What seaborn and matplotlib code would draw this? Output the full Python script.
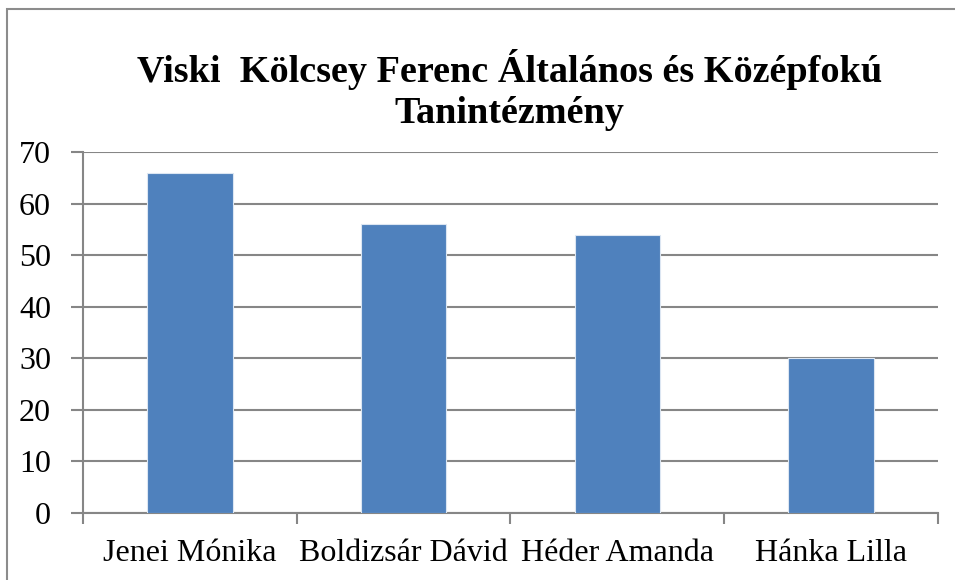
import matplotlib
matplotlib.use("Agg")
import pandas as pd
import seaborn as sns
import matplotlib.pyplot as plt
from matplotlib.patches import Rectangle

# --- Dane ---
names = ["Jenei Mónika", "Boldizsár Dávid", "Héder Amanda", "Hánka Lilla"]
scores = [66, 56, 54, 30]
y_ticks = [0, 10, 20, 30, 40, 50, 60, 70]
title = "Viski  Kölcsey Ferenc Általános és Középfokú\nTanintézmény"

sns.set_theme(style="white")
plt.rcParams["font.family"] = ["Liberation Serif", "DejaVu Serif"]
plt.rcParams["text.color"] = "black"
plt.rcParams["xtick.labelcolor"] = "black"
plt.rcParams["ytick.labelcolor"] = "black"

df = pd.DataFrame({"name": names, "score": scores})

fig = plt.figure(figsize=(9.55, 5.8), dpi=100)
ax = fig.add_axes([0.0869, 0.1155, 0.8953, 0.6224])

grid_c = "#868686"
sns.barplot(data=df, x="name", y="score", color="#4F81BD", width=0.4,
            saturation=1, ax=ax, zorder=3, edgecolor="#dce6f2", linewidth=0.8)

ax.set_ylim(0, 70)
ax.set_xlim(-0.5, len(names) - 0.5)
ax.set_yticks(y_ticks)
ax.yaxis.grid(True, color=grid_c, linewidth=1.5, zorder=0)
ax.set_axisbelow(True)

# ticki na granicach kategorii, etykiety pośrodku
ax.set_xticks([i - 0.5 for i in range(len(names) + 1)])
ax.set_xticklabels([])
ax.set_xticks(range(len(names)), minor=True)
ax.set_xticklabels(names, minor=True, fontsize=23, color="black")
ax.tick_params(axis="x", which="major", length=8, width=1.5, color=grid_c, direction="out")
ax.tick_params(axis="x", which="minor", length=0, pad=19)
ax.tick_params(axis="y", length=9, width=1.5, color=grid_c, labelsize=23, pad=14,
               labelcolor="black", direction="out", left=True)
ax.xaxis.set_tick_params(which="major", bottom=True)

for s in ["top", "right"]:
    ax.spines[s].set_visible(False)
for s in ["left", "bottom"]:
    ax.spines[s].set_color(grid_c)
    ax.spines[s].set_linewidth(1.5)

ax.set_xlabel("")
ax.set_ylabel("")

fig.text(0.5335, 0.845, title, ha="center", va="center", fontsize=27.5,
         fontweight="bold", linespacing=1.2, color="black")

# ramka wykresu
fig.patches.append(Rectangle((0.0075, -0.01), 1.0, 0.995, transform=fig.transFigure,
                             fill=False, edgecolor="#8c8c8c", linewidth=1.5))

fig.savefig("out.png", dpi=100)
